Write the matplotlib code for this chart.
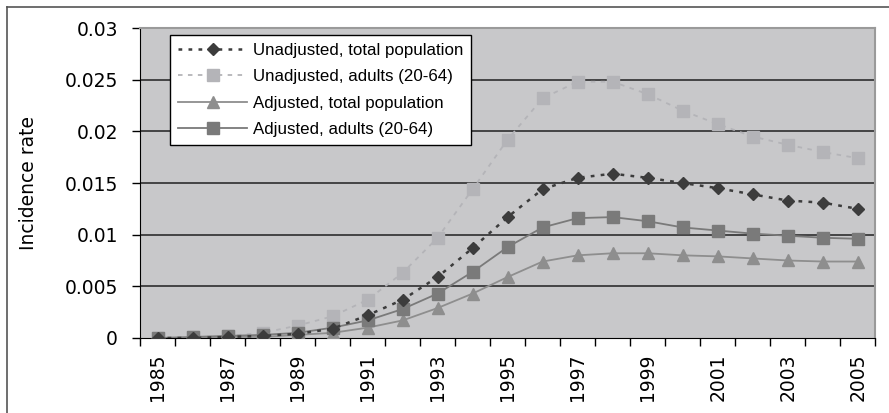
import numpy as np
import matplotlib
matplotlib.use("Agg")
import matplotlib.pyplot as plt
from matplotlib.lines import Line2D

plt.rcParams['font.family'] = ['Liberation Sans', 'DejaVu Sans']

years = list(range(1985, 2006))

# Incidence rates
unadj_total = [0.0, 0.0, 0.0001, 0.0002, 0.0004, 0.0009, 0.0022, 0.0037, 0.0059, 0.0087,
               0.0117, 0.0144, 0.0155, 0.0159, 0.0155, 0.0150, 0.0145, 0.0139, 0.0133,
               0.0131, 0.0125]
unadj_adults = [0.0, 0.0001, 0.0002, 0.0005, 0.0012, 0.0021, 0.0037, 0.0063, 0.0097, 0.0144,
                0.0192, 0.0232, 0.0248, 0.0248, 0.0236, 0.0220, 0.0207, 0.0195, 0.0187,
                0.0180, 0.0174]
adj_total = [0.0, 0.0, 0.0001, 0.0001, 0.0003, 0.0005, 0.0010, 0.0017, 0.0029, 0.0043,
             0.0059, 0.0074, 0.0080, 0.0082, 0.0082, 0.0080, 0.0079, 0.0077, 0.0075,
             0.0074, 0.0074]
adj_adults = [0.0, 0.0001, 0.0002, 0.0003, 0.0005, 0.0010, 0.0017, 0.0028, 0.0043, 0.0064,
              0.0088, 0.0107, 0.0116, 0.0117, 0.0113, 0.0107, 0.0104, 0.0101, 0.0099,
              0.0097, 0.0096]

labels = ['Unadjusted, total population', 'Unadjusted, adults (20-64)',
          'Adjusted, total population', 'Adjusted, adults (20-64)']
y_ticks = [0, 0.005, 0.01, 0.015, 0.02, 0.025, 0.03]
y_labels = ['0', '0.005', '0.01', '0.015', '0.02', '0.025', '0.03']

fig = plt.figure(figsize=(8.89, 4.13), dpi=100)
ax = fig.add_axes([0.1575, 0.1816, 0.827, 0.7506])
ax.set_facecolor('#c8c8ca')

x = np.arange(len(years))

# horizontal gridlines
for yv in y_ticks[1:-1]:
    ax.axhline(yv, color='#3a3a3a', lw=1.3, zorder=1)

ax.plot(x, unadj_adults, color='#b4b4b8', ls=(0, (2.5, 3)), lw=1.3,
        marker='s', ms=9, mec='#b4b4b8', label=labels[1], zorder=3)
ax.plot(x, adj_total, color='#8e8e8e', ls='-', lw=1.3,
        marker='^', ms=9, mec='#8e8e8e', label=labels[2], zorder=4)
ax.plot(x, adj_adults, color='#7a7a7a', ls='-', lw=1.3,
        marker='s', ms=8.5, mec='#7a7a7a', label=labels[3], zorder=5)
ax.plot(x, unadj_total, color='#3c3c3c', ls=(0, (1.5, 2.5)), lw=1.8,
        marker='D', ms=6.5, mec='#3c3c3c', label=labels[0], zorder=6)

ax.set_xlim(-0.5, len(years) - 0.5)
ax.set_ylim(0, 0.03)

tick_font = {'family': 'DejaVu Sans', 'size': 13.5}

ax.set_xticks(x[::2])
ax.set_xticklabels([str(y) for y in years[::2]], rotation=90, fontdict=tick_font)
ax.set_xticks(np.arange(-0.5, len(years)), minor=True)
ax.tick_params(axis='x', which='major', length=0, pad=11)
ax.tick_params(axis='x', which='minor', length=6, width=1, direction='out')

ax.set_yticks(y_ticks)
ax.set_yticklabels(y_labels, fontdict=tick_font)
ax.tick_params(axis='y', length=6, width=1, pad=10)
ax.set_ylabel('Incidence rate', fontdict=tick_font)
ax.yaxis.set_label_coords(-0.139, 0.5)

for side in ['top', 'right']:
    ax.spines[side].set_color('#9a9a9a')
    ax.spines[side].set_linewidth(1.5)
ax.spines['left'].set_color('black')
ax.spines['bottom'].set_color('black')

handles, labs = ax.get_legend_handles_labels()
order = [3, 0, 1, 2]
leg = ax.legend([handles[i] for i in order], [labs[i] for i in order],
                loc='upper left', bbox_to_anchor=(0.041, 0.977), borderaxespad=0,
                fontsize=12.2, frameon=True, fancybox=False, framealpha=1,
                edgecolor='black', handlelength=4.1, handletextpad=0.35,
                labelspacing=0.68, borderpad=0.45)
leg.get_frame().set_linewidth(1)

# outer chart border (left and top visible)
fig.add_artist(Line2D([0.008, 0.008], [0, 0.983], color='#555555', lw=1.2,
                      transform=fig.transFigure))
fig.add_artist(Line2D([0.008, 1], [0.983, 0.983], color='#555555', lw=1.2,
                      transform=fig.transFigure))

fig.savefig('out.png', dpi=100)
